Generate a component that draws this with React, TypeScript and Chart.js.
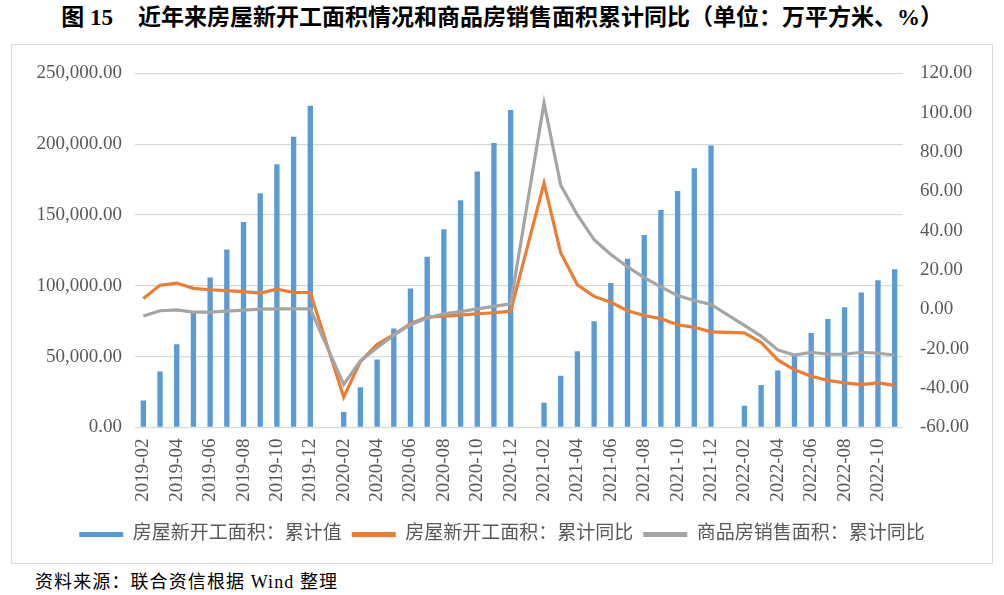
import React, { useEffect, useRef } from "react";
import { Chart, registerables } from "chart.js";

Chart.register(...registerables);

// Monthly cumulative periods (January is merged into February, so it stays empty)
const months = [
  "2019-02", "2019-03", "2019-04", "2019-05", "2019-06", "2019-07", "2019-08", "2019-09", "2019-10", "2019-11", "2019-12",
  "2020-01",
  "2020-02", "2020-03", "2020-04", "2020-05", "2020-06", "2020-07", "2020-08", "2020-09", "2020-10", "2020-11", "2020-12",
  "2021-01",
  "2021-02", "2021-03", "2021-04", "2021-05", "2021-06", "2021-07", "2021-08", "2021-09", "2021-10", "2021-11", "2021-12",
  "2022-01",
  "2022-02", "2022-03", "2022-04", "2022-05", "2022-06", "2022-07", "2022-08", "2022-09", "2022-10", "2022-11",
];

// 房屋新开工面积：累计值（万平方米）
const newStartsCum: (number | null)[] = [
  19000, 39400, 58800, 81000, 105800, 125600, 145100, 165300, 185800, 205300, 227200,
  null,
  10900, 28400, 47900, 69800, 98100, 120500, 140000, 160500, 180700, 200900, 224200,
  null,
  17400, 36500, 53700, 74900, 101900, 119100, 135800, 153500, 167000, 183000, 199100,
  null,
  15300, 30000, 40200, 51000, 66700, 76500, 84900, 95300, 104000, 111600,
];

// 房屋新开工面积：累计同比（%）
const newStartsYoY: (number | null)[] = [
  5.6, 12.3, 13.4, 10.7, 10.0, 9.5, 9.0, 8.3, 10.3, 8.6, 8.6,
  null,
  -44.6, -26.5, -17.8, -12.8, -7.3, -3.9, -3.4, -2.9, -2.2, -1.7, -0.9,
  null,
  64.2, 28.7, 12.5, 6.6, 3.6, -0.7, -3.1, -4.7, -7.8, -9.1, -11.4,
  null,
  -11.9, -16.8, -25.7, -30.7, -34.0, -36.1, -37.4, -38.2, -37.4, -38.6,
];

// 商品房销售面积：累计同比（%）
const salesYoY: (number | null)[] = [
  -3.4, -0.7, -0.2, -1.4, -1.4, -0.9, -0.4, 0.1, 0.3, 0.3, 0.3,
  null,
  -38.2, -26.2, -19.5, -13.1, -7.8, -4.4, -2.2, -1.1, 0.3, 1.5, 2.8,
  null,
  104.9, 63.1, 48.0, 35.4, 27.9, 21.7, 16.2, 11.5, 7.0, 4.5, 2.5,
  null,
  -8.1, -13.6, -20.6, -23.2, -21.8, -22.8, -22.8, -21.8, -22.3, -23.2,
];

const seriesNames = ["房屋新开工面积：累计值", "房屋新开工面积：累计同比", "商品房销售面积：累计同比"];

const areaAxis = { min: 0, max: 250000, step: 50000 };
const pctAxis = { min: -60, max: 120, step: 20 };

const FONT = "'Liberation Serif', 'Noto Sans CJK SC', serif";
const TICK_COLOR = "#595959";

export default function App() {
  const ref = useRef<HTMLCanvasElement>(null);

  useEffect(() => {
    if (!ref.current) return;
    const chart = new Chart(ref.current, {
      type: "bar",
      data: {
        labels: months,
        datasets: [
          {
            type: "bar",
            label: seriesNames[0],
            data: newStartsCum,
            backgroundColor: "#5B9BD5",
            borderWidth: 0,
            yAxisID: "y",
            order: 3,
            barPercentage: 0.32,
            categoryPercentage: 1,
          },
          {
            type: "line",
            label: seriesNames[1],
            data: newStartsYoY,
            borderColor: "#ED7D31",
            backgroundColor: "#ED7D31",
            borderWidth: 3.2,
            pointRadius: 0,
            tension: 0,
            spanGaps: true,
            yAxisID: "y1",
            order: 2,
          },
          {
            type: "line",
            label: seriesNames[2],
            data: salesYoY,
            borderColor: "#A5A5A5",
            backgroundColor: "#A5A5A5",
            borderWidth: 3.2,
            pointRadius: 0,
            tension: 0,
            spanGaps: true,
            yAxisID: "y1",
            order: 1,
          },
        ],
      } as any,
      options: {
        animation: false,
        responsive: false,
        maintainAspectRatio: false,
        layout: { padding: { top: 20, left: 0, right: 0, bottom: 9 } },
        plugins: {
          tooltip: { enabled: false },
          legend: {
            position: "bottom",
            labels: {
              boxWidth: 44,
              boxHeight: 5,
              padding: 10,
              color: TICK_COLOR,
              font: { family: FONT, size: 19 },
              sort: (a: any, b: any) => a.datasetIndex - b.datasetIndex,
              generateLabels: (c: any) =>
                Chart.defaults.plugins.legend.labels
                  .generateLabels(c)
                  .map((l: any) => ({ ...l, lineWidth: 0 })),
            },
          },
        },
        scales: {
          x: {
            grid: { display: false, drawTicks: false },
            border: { display: false },
            ticks: {
              autoSkip: false,
              maxRotation: 90,
              minRotation: 90,
              padding: 11,
              color: TICK_COLOR,
              font: { family: FONT, size: 19 },
              callback: (_v: any, i: number) => (i % 2 === 0 ? months[i] : ""),
            },
            afterFit: (s: any) => {
              s.height = 87.6;
            },
          },
          y: {
            position: "left",
            min: areaAxis.min,
            max: areaAxis.max,
            grid: { color: "#D9D9D9", lineWidth: 1.2, drawTicks: false },
            border: { display: false },
            ticks: {
              stepSize: areaAxis.step,
              padding: 13,
              color: TICK_COLOR,
              font: { family: FONT, size: 19 },
              callback: (v: any) =>
                Number(v).toLocaleString("en-US", { minimumFractionDigits: 2, maximumFractionDigits: 2 }),
            },
            afterFit: (s: any) => {
              s.width = 123;
            },
          },
          y1: {
            position: "right",
            min: pctAxis.min,
            max: pctAxis.max,
            grid: { display: false, drawTicks: false },
            border: { display: false },
            ticks: {
              stepSize: pctAxis.step,
              padding: 17,
              color: TICK_COLOR,
              font: { family: FONT, size: 19 },
              callback: (v: any) => Number(v).toFixed(2),
            },
            afterFit: (s: any) => {
              s.width = 89;
            },
          },
        },
      } as any,
    });
    return () => chart.destroy();
  }, []);

  return (
    <div style={{ position: "absolute", left: 0, top: 0, width: 1004, height: 595, background: "#fff" }}>
      <div
        style={{
          position: "absolute",
          left: 0,
          top: 4,
          width: 1004,
          textAlign: "center",
          fontFamily: FONT,
          fontWeight: 700,
          fontSize: 23,
          lineHeight: "28px",
          color: "#000",
          whiteSpace: "nowrap",
        }}
      >
        <span>图 15</span>
        <span style={{ marginLeft: 25 }}>近年来房屋新开工面积情况和商品房销售面积累计同比（单位：万平方米、%）</span>
      </div>
      <div
        style={{
          position: "absolute",
          left: 11,
          top: 44,
          width: 980,
          height: 518,
          border: "1px solid #D9D9D9",
        }}
      >
        <canvas ref={ref} width={980} height={518} style={{ display: "block", width: 980, height: 518 }} />
      </div>
      <div
        style={{
          position: "absolute",
          left: 35,
          top: 570,
          fontFamily: FONT,
          fontSize: 18,
          letterSpacing: 1.1,
          lineHeight: "24px",
          color: "#000",
          whiteSpace: "nowrap",
        }}
      >
        资料来源：联合资信根据 Wind 整理
      </div>
    </div>
  );
}
